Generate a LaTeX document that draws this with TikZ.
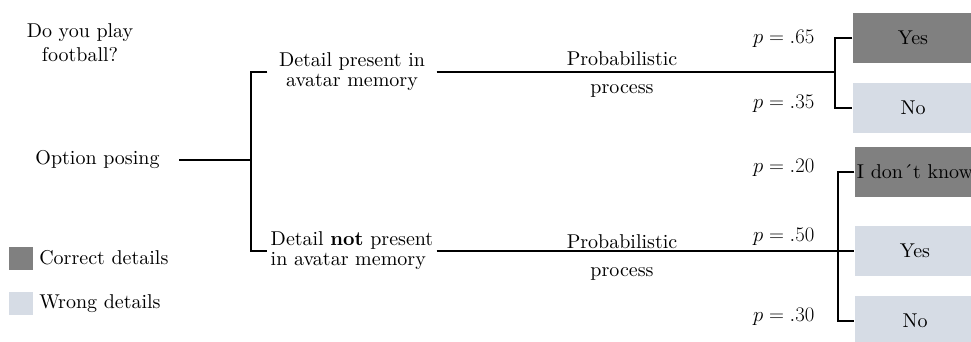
\documentclass[tikz,border=0pt]{standalone}
\usepackage{fontspec}
\setmainfont{lmroman10-regular.otf}[BoldFont=lmroman10-bold.otf, ItalicFont=lmroman10-italic.otf]
\usetikzlibrary{positioning}
\definecolor{rightgray}{RGB}{128,128,128}
\definecolor{wronggray}{RGB}{214,220,229}
\begin{document}
\begin{tikzpicture}[x = 1pt, y = -1pt, line width = 1.3pt,
	every node/.style = {font=\fontsize{20}{20}\selectfont},
	answer/.style = {minimum width=120pt, minimum height=50pt, inner xsep=0pt},
	correct/.style = {answer, fill=rightgray},
	wrong/.style = {answer, fill=wronggray},
	keybox/.style = {minimum width=24pt, minimum height=23pt, inner sep=0pt},
	branch/.style = {minimum width=168pt, inner xsep=0pt, inner ysep=0pt},
	prob/.style = {anchor=east, inner sep=0pt},
	process/.style = {align=center, font=\fontsize{20}{28}\selectfont}]
\useasboundingbox (0,0) rectangle (971,341);
\coordinate (split) at (251,160);
\coordinate (fork1) at (835,72);
\coordinate (fork2) at (838,251);

\node [align=center, font=\fontsize{20}{24}\selectfont] (question) at (80,43) {Do you play\\football?};
\node [inner xsep=0pt] (posing) at (97.5,160) {Option posing};
\node [branch, align=center] (present) at (352,72) {Detail present in\\avatar memory};
\node [branch, align=left] (absent) at (352,251) {Detail \textbf{not} present\\in avatar memory};
\node [process] (process1) at (622,74) {Probabilistic\\process};
\node [process] (process2) at (622,257) {Probabilistic\\process};

\node [correct] (yes1) at (913,38) {Yes};
\node [wrong] (no1) at (913,108) {No};
\node [correct] (idk) at (915,172) {I don´t know};
\node [wrong] (yes2) at (915,251) {Yes};
\node [wrong] (no2) at (915,321) {No};

\node [prob] (p65) at (815,39) {$p = .65$};
\node [prob] (p35) at (815,104) {$p = .35$};
\node [prob] (p20) at (815,168) {$p = .20$};
\node [prob] (p50) at (815,237) {$p = .50$};
\node [prob] (p30) at (815,317) {$p = .30$};

\node [keybox, fill=rightgray] (keyright) at (21,258) {};
\node [keybox, fill=wronggray] (keywrong) at (21,303.5) {};
\node [right=5pt of keyright, inner sep=0pt] (keyrighttext) {Correct details};
\node [right=5pt of keywrong, inner sep=0pt] (keywrongtext) {Wrong details};

\draw [shorten <=19pt] (posing) -- (split);
\draw (present.west) -| (split) |- (absent.west);
\draw (present.east) -- (fork1);
\draw (yes1.west) -| (fork1) |- (no1.west);
\draw (absent.east) -- (yes2.west);
\draw (idk.west) -| (fork2) |- (no2.west);
\end{tikzpicture}
\end{document}
